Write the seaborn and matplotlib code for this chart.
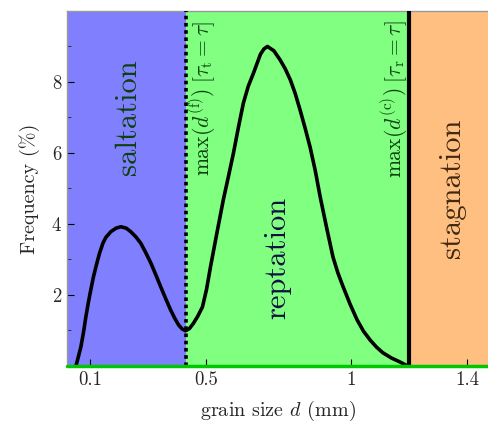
import matplotlib
matplotlib.use("Agg")
import matplotlib.pyplot as plt
import seaborn as sns
import pandas as pd

# grain size distribution
grain_size = [0.052, 0.060, 0.069, 0.078, 0.086, 0.095, 0.103, 0.112, 0.121, 0.133,
              0.145, 0.155, 0.172, 0.190, 0.207, 0.225, 0.241, 0.258, 0.275, 0.292,
              0.310, 0.327, 0.344, 0.361, 0.378, 0.392, 0.406, 0.418, 0.430, 0.443,
              0.457, 0.472, 0.488, 0.502, 0.516, 0.538, 0.560, 0.578, 0.595, 0.612,
              0.629, 0.646, 0.664, 0.688, 0.700, 0.712, 0.734, 0.756, 0.774, 0.791,
              0.808, 0.825, 0.842, 0.859, 0.877, 0.894, 0.916, 0.938, 0.955, 0.973,
              0.997, 1.021, 1.043, 1.066, 1.088, 1.110, 1.140, 1.169, 1.185, 1.196]
frequency = [0.0, 0.25, 0.54, 0.95, 1.38, 1.8, 2.14, 2.5, 2.8, 3.17,
             3.46, 3.62, 3.78, 3.88, 3.92, 3.88, 3.78, 3.64, 3.46, 3.2,
             2.9, 2.57, 2.23, 1.9, 1.58, 1.35, 1.15, 1.04, 0.99, 1.05,
             1.2, 1.4, 1.66, 2.15, 2.8, 3.75, 4.68, 5.35, 6.0, 6.72,
             7.4, 7.88, 8.25, 8.78, 8.93, 9.0, 8.88, 8.62, 8.36, 8.06,
             7.67, 7.2, 6.7, 6.17, 5.5, 4.76, 3.9, 3.07, 2.62, 2.23,
             1.74, 1.3, 0.98, 0.73, 0.53, 0.37, 0.22, 0.11, 0.04, 0.0]

# regime limits (mm)
d_fine_max = 0.43
d_coarse_max = 1.2
regimes = ["saltation", "reptation", "stagnation"]

x_ticks = [0.1, 0.5, 1, 1.4]
x_tick_labels = ["0.1", "0.5", "1", "1.4"]
y_ticks = [2, 4, 6, 8]

df = pd.DataFrame({"d": grain_size, "freq": frequency})

sns.set_style("ticks")
plt.rcParams["font.family"] = ["cmr10", "DejaVu Serif"]
plt.rcParams["mathtext.fontset"] = "cm"
plt.rcParams["axes.formatter.use_mathtext"] = True

fig = plt.figure(figsize=(4.89, 4.22), dpi=100)
ax = fig.add_axes([0.137, 0.133, 0.863, 0.841])

xmin, xmax = 0.021, 1.476
ax.set_xlim(xmin, xmax)
ax.set_ylim(0, 10)

# coloured regime bands
ax.axvspan(xmin, d_fine_max, color="#8080FF", lw=0, zorder=0)
ax.axvspan(d_fine_max, d_coarse_max, color="#80FF80", lw=0, zorder=0)
ax.axvspan(d_coarse_max, xmax, color="#FFBF80", lw=0, zorder=0)

sns.lineplot(data=df, x="d", y="freq", sort=False, color="black", lw=2.6, ax=ax,
             zorder=3, solid_joinstyle="round", solid_capstyle="round")

ax.axvline(d_fine_max, color="black", lw=2.6, ls=(0, (1, 1)), zorder=4)
ax.axvline(d_coarse_max, color="black", lw=3, zorder=4)
ax.axhline(0, color="#00C800", lw=2.5, zorder=5, clip_on=False)

# regime names
ax.text(0.145, 0.70, regimes[0], transform=ax.transAxes, rotation=90,
        ha="center", va="center", fontsize=22, color="#0d400d")
ax.text(0.50, 0.304, regimes[1], transform=ax.transAxes, rotation=90,
        ha="center", va="center", fontsize=22, color="#101040")
ax.text(0.912, 0.50, regimes[2], transform=ax.transAxes, rotation=90,
        ha="center", va="center", fontsize=22, color="#402810")

ax.text(0.322, 0.972, r"$\max(d^{(\mathrm{f})})\;[\tau_\mathrm{t}=\tau]$",
        transform=ax.transAxes, rotation=90, ha="center", va="top",
        fontsize=15.5, color="#0d400d")
ax.text(0.777, 0.972, r"$\max(d^{(\mathrm{c})})\;[\tau_\mathrm{r}=\tau]$",
        transform=ax.transAxes, rotation=90, ha="center", va="top",
        fontsize=15.5, color="#0d400d")

ax.set_xticks(x_ticks)
ax.set_xticklabels(x_tick_labels)
ax.set_yticks(y_ticks)
ax.set_yticks([1, 3, 5, 7, 9], minor=True)
ax.tick_params(axis="both", which="major", direction="in", length=5, width=0.8,
               labelsize=13.5, color="black")
ax.tick_params(axis="y", which="minor", direction="in", length=3, width=0.6)

ax.set_xlabel(r"grain size $d$ (mm)", fontsize=14.5, labelpad=7)
ax.set_ylabel("Frequency (%)", fontsize=14.5, labelpad=8)

for side in ["left", "top"]:
    ax.spines[side].set_color("#999999")
    ax.spines[side].set_linewidth(1)
ax.spines["right"].set_visible(False)
ax.spines["bottom"].set_color("black")

fig.savefig("out.png", dpi=100)
plt.close(fig)
